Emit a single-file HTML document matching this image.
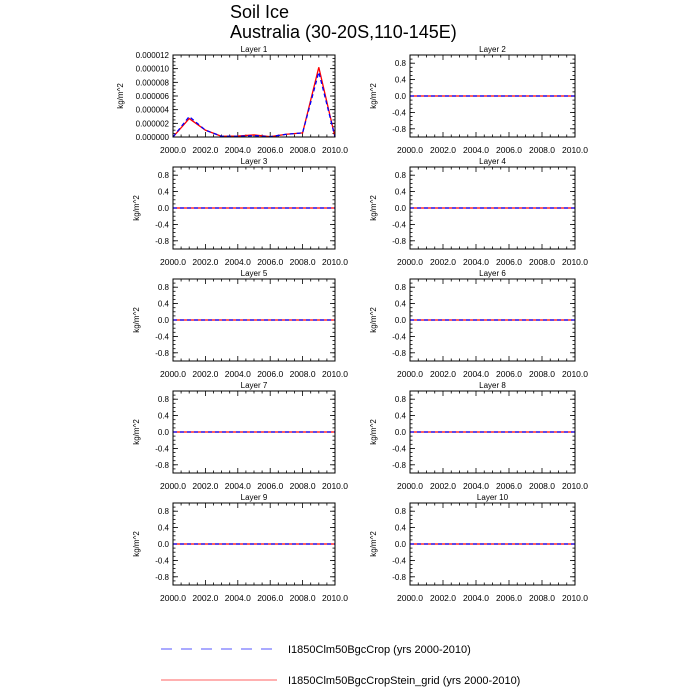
<!DOCTYPE html>
<html><head><meta charset="utf-8"><style>
body{margin:0;background:#fff;}
svg{display:block;font-family:"Liberation Sans",sans-serif;}
</style></head><body>
<svg id="c" width="700" height="700">
<text x="230" y="18" font-size="18">Soil Ice</text>
<text x="230" y="38" font-size="18">Australia (30-20S,110-145E)</text>
<g>
<line x1="161" y1="649" x2="277" y2="649" stroke="#5555ff" stroke-dasharray="11,9"/>
<text x="288" y="653" font-size="11">I1850Clm50BgcCrop (yrs 2000-2010)</text>
<line x1="161" y1="680" x2="277" y2="680" stroke="#ff6060"/>
<text x="288" y="684" font-size="11">I1850Clm50BgcCropStein_grid (yrs 2000-2010)</text>
</g>
</svg>
<script>
const years=[2000,2001,2002,2003,2004,2005,2006,2007,2008,2009,2010];
const layer1Red=[0,2.7e-6,1.0e-6,0.1e-6,0.15e-6,0.3e-6,0.05e-6,0.4e-6,0.6e-6,10.2e-6,0];
const layer1Blue=[0,3.0e-6,1.0e-6,0.1e-6,0.1e-6,0.2e-6,0.05e-6,0.4e-6,0.6e-6,9.5e-6,0];
const zeroSeries=[0,0,0,0,0,0,0,0,0,0,0];
const xTicks=[2000,2002,2004,2006,2008,2010];
const yTicksL1=[0,2e-6,4e-6,6e-6,8e-6,10e-6,12e-6];
const yTicksZero=[-0.8,-0.4,0,0.4,0.8];
const layerNames=["Layer 1","Layer 2","Layer 3","Layer 4","Layer 5","Layer 6","Layer 7","Layer 8","Layer 9","Layer 10"];
const NS="http://www.w3.org/2000/svg";
const svg=document.getElementById('c');
function mk(t,a,p){const e=document.createElementNS(NS,t);for(const k in a)e.setAttribute(k,a[k]);(p||svg).appendChild(e);return e;}
for(let i=0;i<10;i++){
  const col=i%2,row=Math.floor(i/2);
  const L=col?410:173,R=col?575:335,T=55+row*112,B=T+82;
  const g=mk('g',{});
  
  
  const l1=i===0;
  const ymin=l1?0:-1,ymax=l1?12e-6:1;
  const xs=v=>L+(v-2000)/10*(R-L);
  const ys=v=>B-(v-ymin)/(ymax-ymin)*(B-T);
  const t=mk('text',{x:(L+R)/2,y:T-3,'font-size':8,'text-anchor':'middle'},g);t.textContent=layerNames[i];
  
  
  for(let y=2000;y<=2010;y+=0.5){const x=xs(y);const mj=xTicks.includes(y);const len=mj?5:2.5;
    mk('line',{x1:x,y1:B,x2:x,y2:B-len,stroke:'#000','stroke-width':0.8},g);
    mk('line',{x1:x,y1:T,x2:x,y2:T+len,stroke:'#000','stroke-width':0.8},g);}
  xTicks.forEach(v=>{const tx=mk('text',{x:xs(v),y:B+16,'font-size':8.5,'text-anchor':'middle'},g);tx.textContent=v.toFixed(1);
    
    });
  const yt=l1?yTicksL1:yTicksZero;
  const minorStep=l1?0.5e-6:0.1;
  for(let v=ymin;v<=ymax+1e-12;v+=minorStep){const y=ys(v);
    mk('line',{x1:L,y1:y,x2:L+2.5,y2:y,stroke:'#000','stroke-width':0.8},g);
    mk('line',{x1:R,y1:y,x2:R-2.5,y2:y,stroke:'#000','stroke-width':0.8},g);}
  yt.forEach(v=>{const y=ys(v);
    mk('line',{x1:L,y1:y,x2:L+5,y2:y,stroke:'#000','stroke-width':0.8},g);
    mk('line',{x1:R,y1:y,x2:R-5,y2:y,stroke:'#000','stroke-width':0.8},g);
    const ty=mk('text',{x:L-4,y:y+3,'font-size':8,'text-anchor':'end'},g);ty.textContent=l1?v.toFixed(6):v.toFixed(1);
    
    });
  const yl=mk('text',{x:0,y:0,'font-size':8,'text-anchor':'middle',transform:`translate(${l1?L-50:L-34},${(T+B)/2}) rotate(-90)`},g);yl.textContent='kg/m^2';
  
  
  const red=l1?layer1Red:zeroSeries,blue=l1?layer1Blue:zeroSeries;
  const pr=mk('polyline',{points:years.map((y,k)=>xs(y)+','+ys(red[k])).join(' '),fill:'none',stroke:'#ff0000','stroke-width':1.3},g);
  
  
  const pb=mk('polyline',{points:years.map((y,k)=>xs(y)+','+ys(blue[k])).join(' '),fill:'none',stroke:'#0000ff','stroke-width':1.3,'stroke-dasharray':'4,3'},g);
  
  
  mk('rect',{x:L,y:T,width:R-L,height:B-T,fill:'none',stroke:'#000','stroke-width':1},g);
}
</script>
</body></html>
